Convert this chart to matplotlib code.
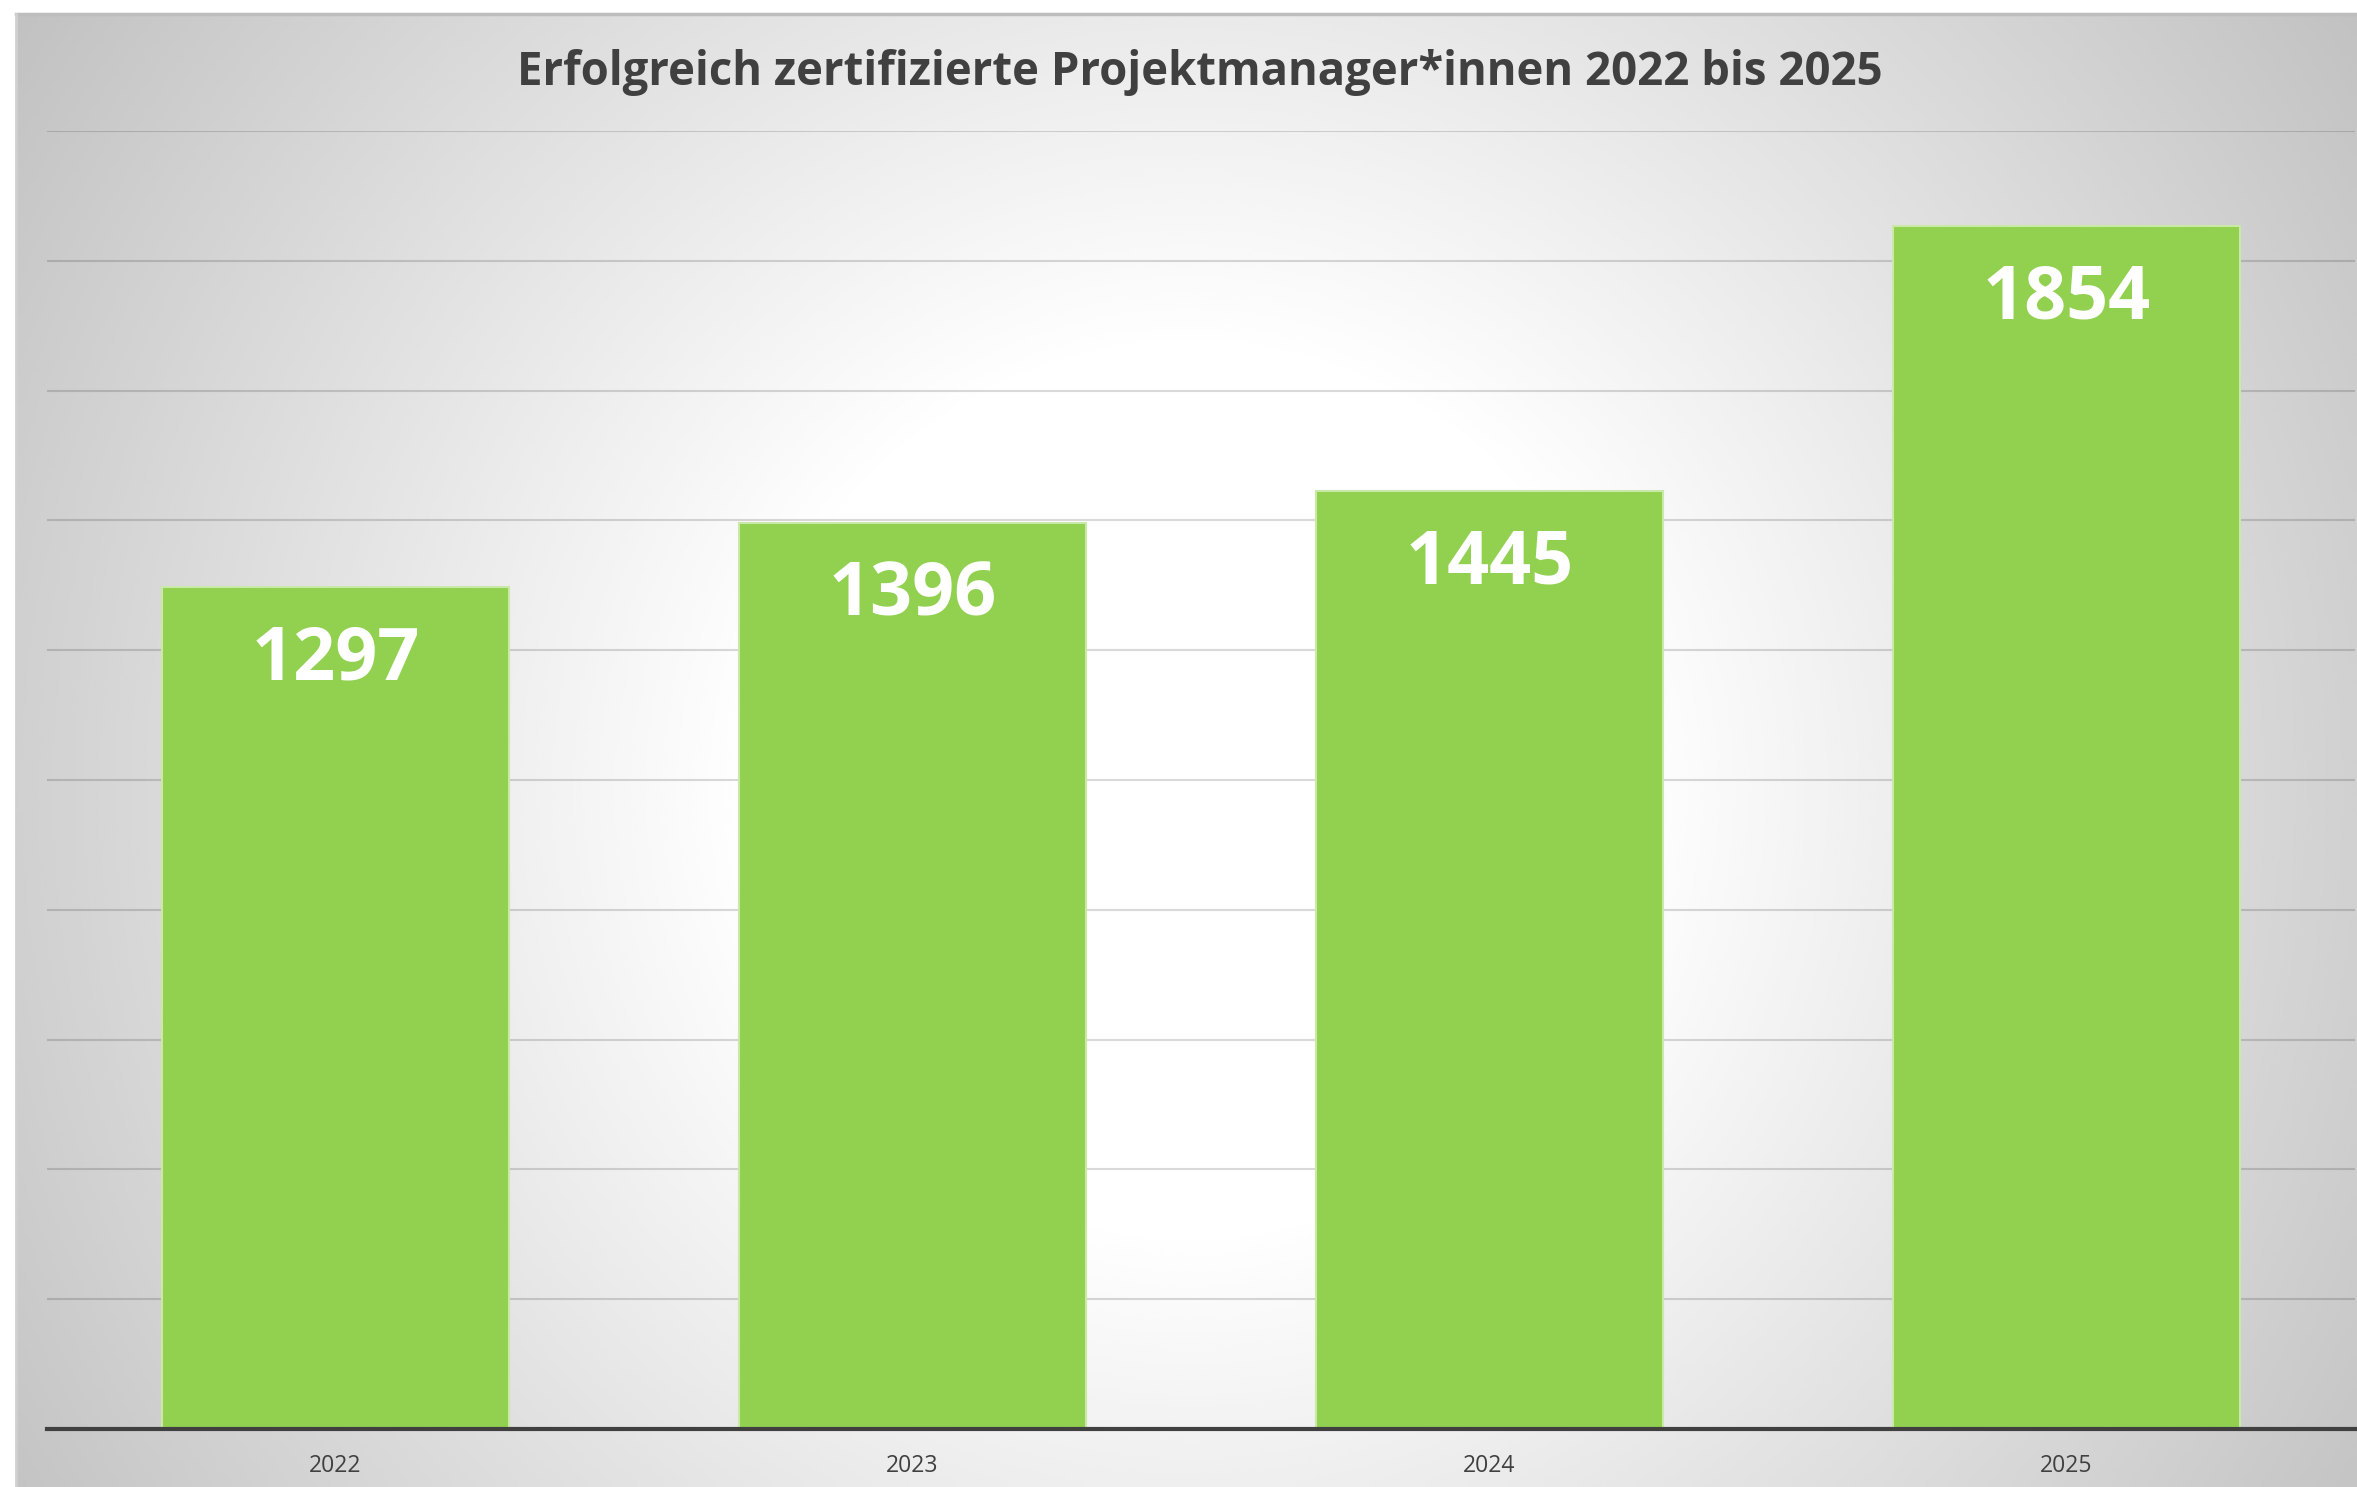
import numpy as np
import matplotlib.pyplot as plt

plt.rcParams['font.family'] = ['Open Sans', 'DejaVu Sans']

jahre = ["2022", "2023", "2024", "2025"]
werte = [1297, 1396, 1445, 1854]
titel = "Erfolgreich zertifizierte Projektmanager*innen 2022 bis 2025"

W, H = 2357, 1487
fig = plt.figure(figsize=(W / 100, H / 100), dpi=100)
fig.patch.set_facecolor("white")

# Hintergrund: radialer Verlauf weiss -> grau (Pixelabstand vom Zentrum)
bg = fig.add_axes([16 / W, 0, 1 - 16 / W, 1 - 14 / H])
xx, yy = np.meshgrid(np.linspace(16, W, 800), np.linspace(14, H, 500))
d = np.sqrt((xx - 1190) ** 2 + (yy - 790) ** 2)
grau = 1 - np.clip(d - 440, 0, None) * 0.00025
bg.imshow(grau, cmap="gray", vmin=0, vmax=1, aspect="auto",
          interpolation="bicubic", extent=[0, 1, 0, 1])
bg.set_axis_off()
bg.plot([0, 1], [1, 1], color="#bdbdbd", lw=2.5, transform=bg.transAxes, clip_on=False)
bg.plot([0, 0], [0, 1], color="#d0d0d0", lw=2, transform=bg.transAxes, clip_on=False)

# Diagramm
ax = fig.add_axes([47 / W, (H - 1429) / H, (2355 - 47) / W, (1429 - 131) / H])
ax.patch.set_alpha(0)
x = np.arange(len(jahre))
ax.bar(x, werte, width=0.60, color="#92D050", edgecolor="#c8eaa6",
       linewidth=1.5, zorder=3)
ax.set_xlim(-0.5, 3.5)
ax.set_ylim(0, 2000)
ax.set_yticks(np.arange(0, 2001, 200))
ax.yaxis.grid(True, color="black", alpha=0.15, lw=1.5, zorder=0)
ax.tick_params(axis="y", left=False, labelleft=False)
ax.set_xticks(x)
ax.set_xticklabels(jahre, fontsize=16.5, color="#404040")
ax.tick_params(axis="x", length=0, pad=18)
for s in ["top", "right", "left"]:
    ax.spines[s].set_visible(False)
ax.spines["bottom"].set_color("#404040")
ax.spines["bottom"].set_linewidth(3)
ax.spines["bottom"].set_zorder(4)

for xi, v in zip(x, werte):
    ax.annotate(str(v), (xi, v), xytext=(0, -53), textcoords="offset points",
                ha="center", va="center", fontsize=53, fontweight="bold",
                color="white", zorder=5)

fig.text(1200 / W, 1 - 72 / H, titel, ha="center", va="center",
         fontsize=32.8, fontweight="bold", color="#404040")

fig.savefig("out.png", dpi=100)
